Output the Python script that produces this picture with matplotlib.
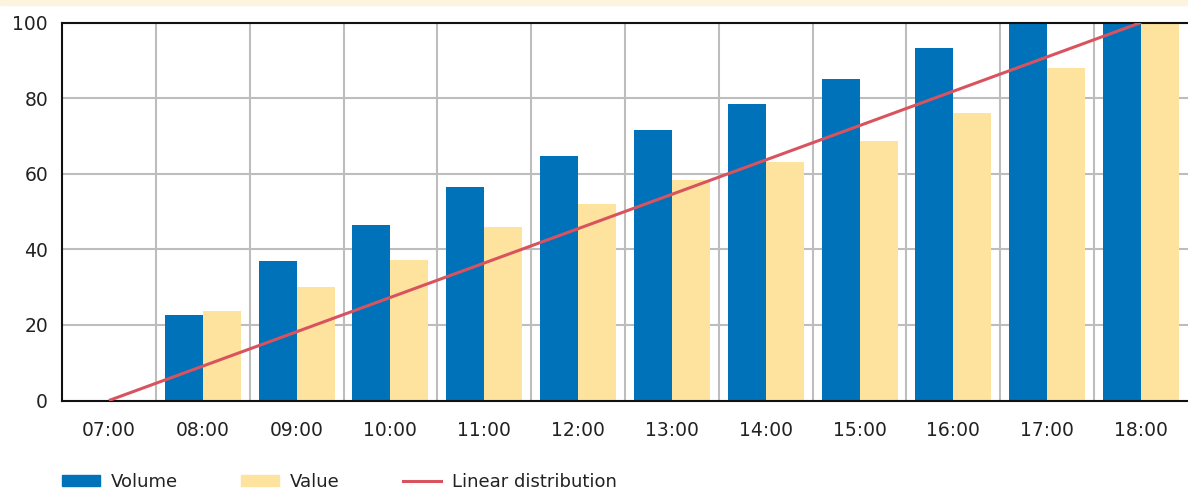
import numpy as np
import matplotlib
matplotlib.use('Agg')
import matplotlib.pyplot as plt
from matplotlib.patches import Patch, Rectangle
from matplotlib.lines import Line2D

plt.rcParams['font.family'] = ['DejaVu Sans']

# data
hours = ['07:00', '08:00', '09:00', '10:00', '11:00', '12:00',
         '13:00', '14:00', '15:00', '16:00', '17:00', '18:00']
volume = [0, 22.6, 36.9, 46.4, 56.5, 64.7, 71.6, 78.4, 85.1, 93.3, 99.6, 100]
value = [0, 23.7, 30.0, 37.2, 45.9, 52.0, 58.3, 63.1, 68.7, 76.1, 88.0, 100]
linear = [0, 100]

c_vol = '#0072ba'
c_val = '#fde39d'
c_lin = '#d9535f'
c_grid = '#bdbdbd'
c_text = '#222222'

fig = plt.figure(figsize=(11.88, 4.91), dpi=100)
# pale band across the top
fig.patches.append(Rectangle((0, 1 - 5 / 491), 1, 5 / 491, transform=fig.transFigure,
                             color='#fdf4df', zorder=0))

ax = fig.add_axes([62 / 1188, 1 - 400.5 / 491, 1 - 62 / 1188, (400.5 - 22.5) / 491])

x = np.arange(len(hours))
w = 0.405
ax.bar(x - w / 2, volume, w, color=c_vol, zorder=2)
ax.bar(x + w / 2, value, w, color=c_val, zorder=2)
ax.plot([x[0], x[-1]], linear, color=c_lin, lw=2.2, zorder=3, solid_capstyle='butt')

ax.set_xlim(-0.5, len(hours) - 0.5)
ax.set_ylim(0, 100)
ax.set_xticks(x)
ax.set_xticklabels(hours)
ax.set_xticks(x[:-1] + 0.5, minor=True)
ax.set_yticks([0, 20, 40, 60, 80, 100])

ax.grid(True, which='minor', axis='x', color=c_grid, lw=1.5, zorder=1)
ax.grid(True, which='major', axis='y', color=c_grid, lw=1.5, zorder=1)
ax.set_axisbelow(True)

ax.tick_params(axis='x', which='both', length=0, pad=15, labelsize=13.5, labelcolor=c_text)
ax.tick_params(axis='y', length=0, pad=10, labelsize=13.5, labelcolor=c_text)

for s in ['left', 'bottom', 'top']:
    ax.spines[s].set_color('#111111')
    ax.spines[s].set_linewidth(1.5)
ax.spines['right'].set_visible(False)

handles = [Patch(color=c_vol), Patch(color=c_val), Line2D([], [], color=c_lin, lw=2.2)]
labels = ['Volume', 'Value', 'Linear distribution']
fig.legend(handles, labels, loc='center left', bbox_to_anchor=(62 / 1188, 1 - 482 / 491),
           ncol=3, frameon=False, fontsize=13, borderpad=0, borderaxespad=0,
           handlelength=2.1, handleheight=0.6, handletextpad=0.6, columnspacing=3.5,
           labelcolor=c_text)

fig.savefig('out.png', dpi=100)
